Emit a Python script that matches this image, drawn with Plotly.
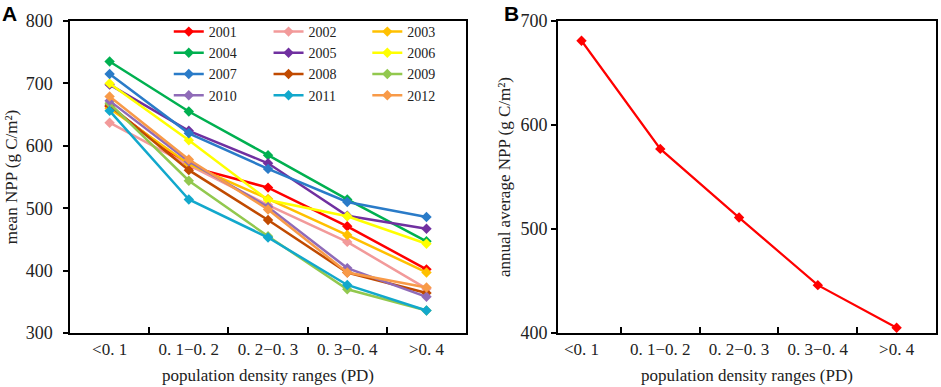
import plotly.graph_objects as go

categories = ["<0. 1", "0. 1−0. 2", "0. 2−0. 3", "0. 3−0. 4", ">0. 4"]
years = ["2001", "2002", "2003", "2004", "2005", "2006",
         "2007", "2008", "2009", "2010", "2011", "2012"]

npp_2001 = [663, 567, 533, 471, 402]
npp_2002 = [637, 569, 505, 446, 371]
npp_2003 = [660, 571, 515, 457, 397]
npp_2004 = [735, 655, 585, 514, 447]
npp_2005 = [698, 624, 572, 488, 467]
npp_2006 = [700, 609, 513, 487, 443]
npp_2007 = [715, 620, 563, 510, 486]
npp_2008 = [665, 561, 481, 397, 364]
npp_2009 = [668, 544, 455, 370, 336]
npp_2010 = [672, 575, 502, 404, 358]
npp_2011 = [656, 514, 453, 377, 336]
npp_2012 = [679, 578, 498, 397, 373]

annual_avg = [681, 577, 511, 446, 405]

colors = ["#FF0000", "#F29A9A", "#FFC000", "#00B050", "#7030A0", "#FFFF00",
          "#2A7BC8", "#C04A00", "#92C84E", "#8F6BB8", "#12A8CC", "#F89A48"]

series = [npp_2001, npp_2002, npp_2003, npp_2004, npp_2005, npp_2006,
          npp_2007, npp_2008, npp_2009, npp_2010, npp_2011, npp_2012]

FONT = "Liberation Serif"

fig = go.Figure()
legend_ids = ["legend", "legend2", "legend3"]
for i, (yr, vals, col) in enumerate(zip(years, series, colors)):
    fig.add_trace(go.Scatter(
        x=categories, y=vals, name=yr, mode="lines+markers",
        line=dict(color=col, width=2.5),
        marker=dict(symbol="diamond", size=8, color=col),
        xaxis="x", yaxis="y", legend=legend_ids[i % 3],
    ))

fig.add_trace(go.Scatter(
    x=categories, y=annual_avg, name="annual average", mode="lines+markers",
    line=dict(color="#FF0000", width=2.2),
    marker=dict(symbol="diamond", size=8, color="#FF0000"),
    xaxis="x2", yaxis="y2", showlegend=False,
))

axis_common = dict(
    showline=True, mirror=True, linecolor="black", linewidth=1.5,
    showgrid=False, zeroline=False,
    tickfont=dict(family=FONT, size=18, color="#222"),
)
xcommon = dict(
    axis_common,
    type="category", tickson="boundaries", ticks="inside",
    ticklen=6, tickcolor="black", tickwidth=1.5,
    tickfont=dict(family=FONT, size=17, color="#222"),
    title=dict(text="population density ranges (PD)",
               font=dict(family=FONT, size=17, color="#222"), standoff=11),
)

L, R, T, B = 70, 3, 21, 54
W, H = 941, 387
pw = W - L - R

fig.update_layout(
    width=W, height=H,
    margin=dict(l=L, r=R, t=T, b=B),
    paper_bgcolor="white", plot_bgcolor="white",
    xaxis=dict(xcommon, domain=[0, (467 - L) / pw], range=[-0.5, 4.5]),
    xaxis2=dict(xcommon, domain=[(559 - L) / pw, 1.0], range=[-0.3, 4.5], anchor="y2"),
    yaxis=dict(axis_common, range=[300, 800], dtick=100, ticks="outside",
               ticklen=5, tickcolor="black", tickwidth=1.5, ticklabelstandoff=7,
               title=dict(text="mean NPP (g C/m²)",
                          font=dict(family=FONT, size=17, color="#222"), standoff=4)),
    yaxis2=dict(axis_common, range=[400, 700], dtick=100, ticks="outside",
                ticklen=5, tickcolor="black", tickwidth=1.5, anchor="x2",
                ticklabelstandoff=0,
                title=dict(text="annual average NPP (g C/m²)",
                           font=dict(family=FONT, size=17, color="#222"), standoff=6)),
    annotations=[
        dict(text="<b>A</b>", x=(0 - L) / pw, y=1 + T / 312, xref="paper", yref="paper",
             xanchor="left", yanchor="top", showarrow=False,
             font=dict(family="Liberation Sans", size=21, color="black")),
        dict(text="<b>B</b>", x=(503 - L) / pw, y=1 + T / 312, xref="paper", yref="paper",
             xanchor="left", yanchor="top", showarrow=False,
             font=dict(family="Liberation Sans", size=21, color="black")),
    ],
)

legend_x = [169, 269, 368]
for lid, lx in zip(legend_ids, legend_x):
    fig.update_layout({lid: dict(
        x=(lx - L) / pw, y=1 + 5 / 312, xanchor="left", yanchor="top",
        orientation="v", bgcolor="rgba(0,0,0,0)", borderwidth=0,
        font=dict(family=FONT, size=14, color="#222"),
        itemwidth=30, tracegroupgap=0,
    )})

fig.write_html("out.html",
               config={"displayModeBar": False},
               post_script="document.body.style.margin='0';document.body.style.overflow='hidden';")
